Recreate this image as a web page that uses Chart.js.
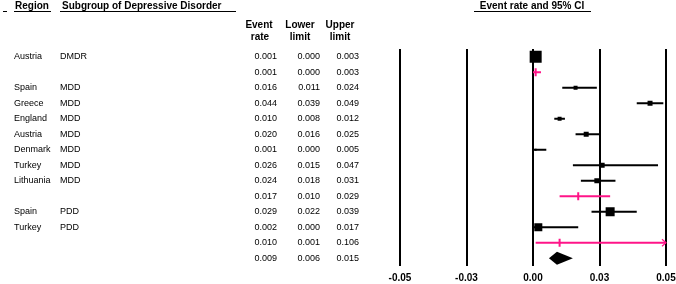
<!DOCTYPE html>
<html>
<head>
<meta charset="utf-8">
<script src="https://cdn.jsdelivr.net/npm/chart.js@4/dist/chart.umd.min.js"></script>
<style>
  html, body { margin: 0; padding: 0; background: #fff; }
  #wrap { width: 676px; height: 284px; position: relative; }
</style>
</head>
<body>
<div id="wrap"><canvas id="forest"></canvas></div>
<script>
// table rows, top to bottom
const regions   = ['Austria', '', 'Spain', 'Greece', 'England', 'Austria', 'Denmark', 'Turkey', 'Lithuania', '', 'Spain', 'Turkey', '', ''];
const subgroups = ['DMDR', '', 'MDD', 'MDD', 'MDD', 'MDD', 'MDD', 'MDD', 'MDD', '', 'PDD', 'PDD', '', ''];
const rowKind   = ['study', 'sub', 'study', 'study', 'study', 'study', 'study', 'study', 'study', 'sub', 'study', 'study', 'sub', 'total'];
const eventRate  = [0.001, 0.001, 0.016, 0.044, 0.010, 0.020, 0.001, 0.026, 0.024, 0.017, 0.029, 0.002, 0.010, 0.009];
const lowerLimit = [0.000, 0.000, 0.011, 0.039, 0.008, 0.016, 0.000, 0.015, 0.018, 0.010, 0.022, 0.000, 0.001, 0.006];
const upperLimit = [0.003, 0.003, 0.024, 0.049, 0.012, 0.025, 0.005, 0.047, 0.031, 0.029, 0.039, 0.017, 0.106, 0.015];
// relative study weight (drawn as box side), 0 for pooled rows
const boxWeight  = [12, 0, 4, 5, 4, 5, 2, 5, 5, 0, 9, 8, 0, 0];

const xTickValues = [-0.05, -0.025, 0, 0.025, 0.05];
const xTickLabels = ['-0.05', '-0.03', '0.00', '0.03', '0.05'];

const PINK = '#ff1488';
const FONT = '"Liberation Sans", Arial, sans-serif';

const fmt = v => v.toFixed(3);

// confidence intervals + summary diamond
const ciPlugin = {
  id: 'ciLines',
  beforeDatasetsDraw(chart) {
    const ctx = chart.ctx, xs = chart.scales.x, ys = chart.scales.y;
    ctx.save();
    eventRate.forEach((r, i) => {
      const y = ys.getPixelForValue(i);
      const lo = xs.getPixelForValue(Math.max(lowerLimit[i], xs.min));
      const hi = xs.getPixelForValue(Math.min(upperLimit[i], xs.max));
      if (rowKind[i] === 'total') {
        const c = xs.getPixelForValue(r);
        ctx.fillStyle = '#000';
        ctx.beginPath();
        ctx.moveTo(lo, y);
        ctx.lineTo(c, y - 6.5);
        ctx.lineTo(hi, y);
        ctx.lineTo(c, y + 6.5);
        ctx.closePath();
        ctx.fill();
        return;
      }
      ctx.strokeStyle = rowKind[i] === 'sub' ? PINK : '#000';
      ctx.lineWidth = 2;
      ctx.beginPath();
      ctx.moveTo(lo, y);
      ctx.lineTo(hi, y);
      ctx.stroke();
      if (upperLimit[i] > xs.max) {
        ctx.lineWidth = 1.2;
        ctx.beginPath();
        ctx.moveTo(hi - 4, y - 3.5);
        ctx.lineTo(hi, y);
        ctx.lineTo(hi - 4, y + 3.5);
        ctx.stroke();
      }
    });
    ctx.restore();
  }
};

// left-hand table text and headers
const tablePlugin = {
  id: 'tableText',
  afterDraw(chart) {
    const ctx = chart.ctx, ys = chart.scales.y;
    ctx.save();
    ctx.fillStyle = '#000';
    ctx.strokeStyle = '#000';
    ctx.textBaseline = 'middle';

    ctx.font = 'bold 10px ' + FONT;
    ctx.textAlign = 'left';
    ctx.fillText('Region', 15, 6);
    ctx.fillText('Subgroup of Depressive Disorder', 62, 6);
    ctx.textAlign = 'center';
    ctx.fillText('Event rate and 95% CI', 532, 6);
    ctx.fillText('Event', 259, 25);
    ctx.fillText('rate', 260, 37);
    ctx.fillText('Lower', 300, 25);
    ctx.fillText('limit', 300, 37);
    ctx.fillText('Upper', 340, 25);
    ctx.fillText('limit', 340, 37);

    ctx.lineWidth = 1;
    [[3, 7], [14, 51], [60, 236], [474, 591]].forEach(([a, b]) => {
      ctx.beginPath();
      ctx.moveTo(a, 11.5);
      ctx.lineTo(b, 11.5);
      ctx.stroke();
    });

    ctx.font = '9px ' + FONT;
    eventRate.forEach((r, i) => {
      const y = ys.getPixelForValue(i);
      ctx.textAlign = 'left';
      ctx.fillText(regions[i], 14, y);
      ctx.fillText(subgroups[i], 60, y);
      ctx.textAlign = 'right';
      ctx.fillText(fmt(r), 277, y);
      ctx.fillText(fmt(lowerLimit[i]), 320, y);
      ctx.fillText(fmt(upperLimit[i]), 359, y);
    });
    ctx.restore();
  }
};

const studyPts = [], studySizes = [], subPts = [];
eventRate.forEach((r, i) => {
  if (rowKind[i] === 'study') {
    studyPts.push({ x: r, y: i });
    studySizes.push(boxWeight[i] / Math.SQRT2);
  } else if (rowKind[i] === 'sub') {
    subPts.push({ x: r, y: i });
  }
});

new Chart(document.getElementById('forest'), {
  type: 'scatter',
  data: {
    datasets: [
      {
        label: 'Studies',
        data: studyPts,
        pointStyle: 'rect',
        pointRadius: studySizes,
        backgroundColor: '#000',
        borderColor: '#000',
        borderWidth: 0
      },
      {
        label: 'Subtotals',
        data: subPts,
        pointStyle: 'line',
        rotation: 90,
        pointRadius: 4,
        borderColor: PINK,
        borderWidth: 2
      }
    ]
  },
  options: {
    responsive: true,
    maintainAspectRatio: false,
    animation: false,
    events: [],
    layout: { padding: { left: 400, right: 10, top: 49, bottom: 0 } },
    plugins: { legend: { display: false }, tooltip: { enabled: false } },
    scales: {
      x: {
        type: 'linear',
        z: 1,
        min: -0.05,
        max: 0.05,
        afterBuildTicks: s => { s.ticks = xTickValues.map(v => ({ value: v })); },
        afterFit: s => { s.height = 18; s.paddingLeft = 0; s.paddingRight = 0; },
        grid: { color: '#000', lineWidth: 2, drawTicks: false },
        border: { display: false },
        ticks: {
          padding: 6,
          color: '#000',
          font: { family: FONT, size: 10, weight: 'bold' },
          maxRotation: 0,
          callback: (v, idx) => xTickLabels[idx]
        }
      },
      y: {
        type: 'linear',
        min: -0.5,
        max: 13.5,
        reverse: true,
        display: false
      }
    }
  },
  plugins: [ciPlugin, tablePlugin]
});
</script>
</body>
</html>
